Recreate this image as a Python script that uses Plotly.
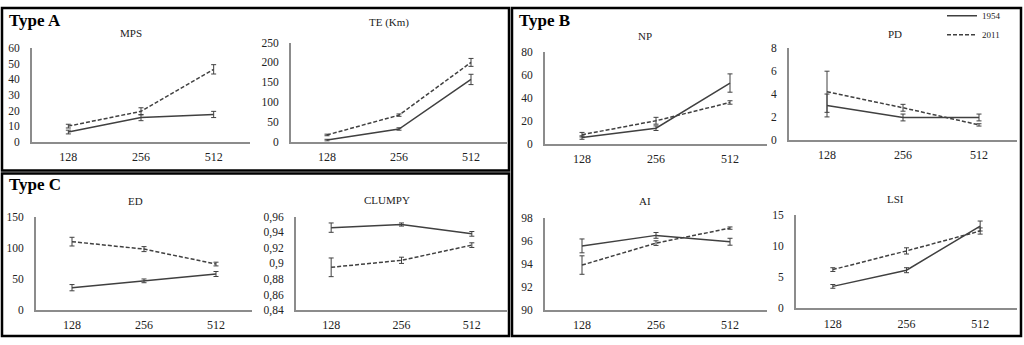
import plotly.graph_objects as go

W, H = 1024, 345
categories = ["128", "256", "512"]
series_names = ["1954", "2011"]

# metric values (1954, 2011) and error bars
mps_1954 = [6.2, 15.5, 17.5]
mps_1954_err = [1.2, 2.0, 2.0]
mps_2011 = [10.0, 19.5, 46.5]
mps_2011_err = [1.2, 2.3, 3.0]

te_1954 = [4, 32, 157]
te_1954_err = [2, 3, 13]
te_2011 = [17, 67, 200]
te_2011_err = [2, 3, 10]

np_1954 = [5.3, 13.5, 53]
np_1954_err = [1.5, 2.0, 8]
np_2011 = [7.8, 20, 36]
np_2011_err = [2.0, 3.0, 1.5]

pd_1954 = [3.0, 1.95, 1.95]
pd_1954_err = [1.0, 0.3, 0.3]
pd_2011 = [4.2, 2.8, 1.3]
pd_2011_err = [1.8, 0.3, 0.1]

ed_1954 = [36, 47, 58]
ed_1954_err = [5, 3, 4]
ed_2011 = [110, 98, 74]
ed_2011_err = [7, 4, 3]

clumpy_1954 = [0.946, 0.950, 0.938]
clumpy_1954_err = [0.006, 0.002, 0.003]
clumpy_2011 = [0.895, 0.904, 0.9235]
clumpy_2011_err = [0.012, 0.004, 0.003]

ai_1954 = [95.56, 96.47, 95.92]
ai_1954_err = [0.6, 0.25, 0.3]
ai_2011 = [93.9, 95.8, 97.1]
ai_2011_err = [0.8, 0.2, 0.1]

lsi_1954 = [3.5, 6.1, 13.2]
lsi_1954_err = [0.3, 0.4, 0.8]
lsi_2011 = [6.2, 9.2, 12.4]
lsi_2011_err = [0.3, 0.5, 0.5]

titles = ["MPS", "TE (Km)", "NP", "PD", "ED", "CLUMPY", "AI", "LSI"]
panel_labels = ["Type A", "Type B", "Type C"]

panels = [
    # title, d1954, e1954, d2011, e2011, yrange, dtick, (x0,x1,ytop,ybot) px, title pos px
    (titles[0], mps_1954, mps_1954_err, mps_2011, mps_2011_err, [0, 60], 10, (32, 250, 44, 141), (131, 28)),
    (titles[1], te_1954, te_1954_err, te_2011, te_2011_err, [0, 250], 50, (291, 507, 38, 141), (389, 17)),
    (titles[2], np_1954, np_1954_err, np_2011, np_2011_err, [0, 80], 20, (545, 767, 48, 143), (645, 31)),
    (titles[3], pd_1954, pd_1954_err, pd_2011, pd_2011_err, [0, 8], 2, (789, 1017, 44, 139), (895, 29)),
    (titles[4], ed_1954, ed_1954_err, ed_2011, ed_2011_err, [0, 150], 50, (36, 252, 219, 316), (135, 203)),
    (titles[5], clumpy_1954, clumpy_1954_err, clumpy_2011, clumpy_2011_err, [0.84, 0.96], 0.02, (296, 507, 219, 316), (387, 202)),
    (titles[6], ai_1954, ai_1954_err, ai_2011, ai_2011_err, [90, 98], 2, (545, 767, 220, 316), (645, 203)),
    (titles[7], lsi_1954, lsi_1954_err, lsi_2011, lsi_2011_err, [0, 15], 5, (796, 1017, 217, 314), (895, 201)),
]

LINE = "#404040"
AXIS = "#8c8c8c"
FONT = "Liberation Serif"
DASH = "4px,2px"

fig = go.Figure()
layout = {}
annotations = []
for i, (title, d1, e1, d2, e2, yr, dt, box, tpos) in enumerate(panels, start=1):
    xa = f"x{i}" if i > 1 else "x"
    ya = f"y{i}" if i > 1 else "y"
    fig.add_trace(go.Scatter(
        x=categories, y=d1, mode="lines", name=series_names[0],
        line=dict(color=LINE, width=1.5, dash="solid"),
        error_y=dict(type="data", array=e1, color=LINE, thickness=1, width=2.5),
        xaxis=xa, yaxis=ya, showlegend=(i == 1)))
    fig.add_trace(go.Scatter(
        x=categories, y=d2, mode="lines", name=series_names[1],
        line=dict(color=LINE, width=1.5, dash=DASH),
        error_y=dict(type="data", array=e2, color=LINE, thickness=1, width=2.5),
        xaxis=xa, yaxis=ya, showlegend=(i == 1)))
    x0, x1, yt, yb = box
    key = "" if i == 1 else str(i)
    layout[f"xaxis{key}"] = dict(
        domain=[x0 / W, x1 / W], anchor=ya, type="category",
        range=[-0.5, 2.5], showline=True, linecolor=AXIS, linewidth=2,
        showgrid=False, zeroline=False, ticks="", ticklabelstandoff=3,
        tickfont=dict(family=FONT, size=12, color="#222"), fixedrange=True)
    layout[f"yaxis{key}"] = dict(
        domain=[1 - yb / H, 1 - yt / H], anchor=xa, range=yr, dtick=dt,
        tick0=yr[0], showline=True, linecolor=AXIS, linewidth=2,
        showgrid=False, zeroline=False, ticks="", ticklabelstandoff=8,
        tickfont=dict(family=FONT, size=11.5, color="#222"), fixedrange=True)
    annotations.append(dict(
        x=tpos[0] / W, y=1 - tpos[1] / H, xref="paper", yref="paper",
        text=title, showarrow=False, xanchor="center", yanchor="middle",
        font=dict(family=FONT, size=11, color="#222")))

for text, px, py in [(panel_labels[0], 7, 15), (panel_labels[1], 517, 15), (panel_labels[2], 7, 186)]:
    annotations.append(dict(
        x=px / W, y=1 - py / H, xref="paper", yref="paper", text=f"<b>{text}</b>",
        showarrow=False, xanchor="left", yanchor="middle",
        font=dict(family=FONT, size=17, color="#000")))

boxes = [(2, 2, 509, 171), (2, 174, 509, 343), (512, 2, 1021, 343)]
shapes = []
for bx0, by0, bx1, by1 in boxes:
    shapes.append(dict(type="rect", xref="paper", yref="paper",
                       x0=bx0 / W, x1=bx1 / W, y0=1 - by1 / H, y1=1 - by0 / H,
                       line=dict(color="#000", width=2.5), fillcolor="rgba(0,0,0,0)"))

fig.update_layout(
    width=W, height=H, margin=dict(l=0, r=0, t=0, b=0),
    paper_bgcolor="white", plot_bgcolor="white",
    separators=", ",
    annotations=annotations, shapes=shapes,
    legend=dict(x=942 / W, y=1 + 5 / H, xanchor="left", yanchor="top",
                font=dict(family=FONT, size=9, color="#222"),
                bgcolor="rgba(0,0,0,0)", tracegroupgap=0, itemwidth=30),
    **layout,
)

fig.write_html("out.html", config={"displayModeBar": False},
               post_script="document.body.style.margin='0';document.body.style.overflow='hidden';")
